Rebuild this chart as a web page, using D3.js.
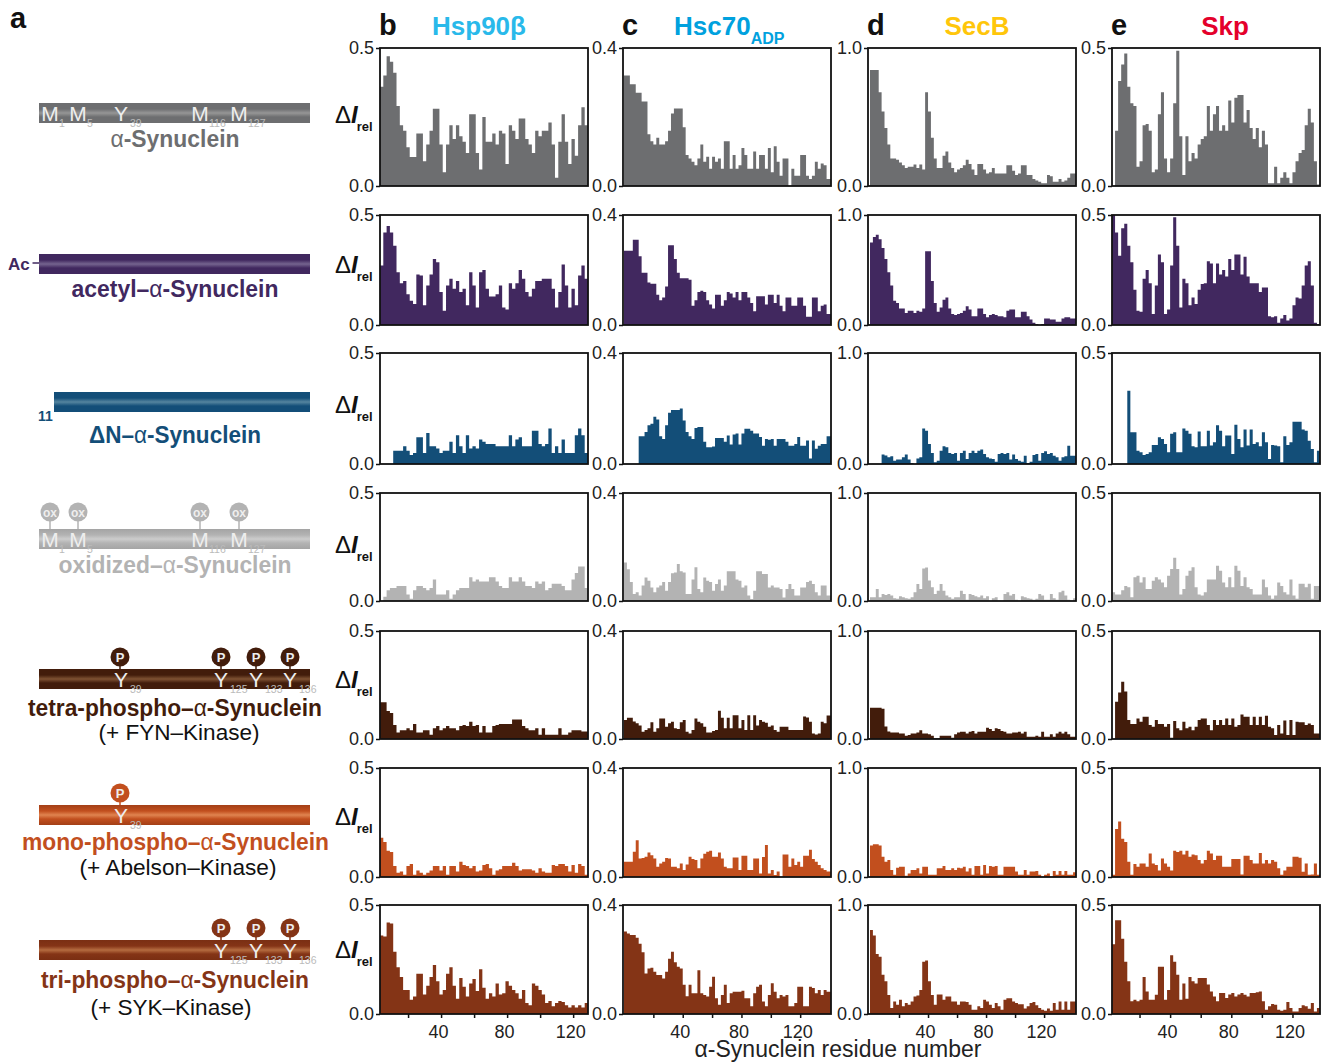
<!DOCTYPE html>
<html>
<head>
<meta charset="utf-8">
<script src="https://cdn.jsdelivr.net/npm/d3@7"></script>
<style>
body { margin: 0; background: #fff; }
svg { display: block; font-family: "Liberation Sans", Arial, sans-serif; }
.tick text { font-size: 18px; fill: #222; }
.tick line { stroke: #111; stroke-width: 1.5; }
</style>
</head>
<body>
<div id="chart"></div>
<script>
// delta I rel per residue pair, one array per construct
// Hsp90b column (starts at residue 3)
var hspWt = [.36,.40,.47,.45,.41,.29,.22,.20,.14,.105,.105,.19,.19,.09,.15,.2,.28,.28,.15,.05,.15,.22,.17,.22,.18,.16,.12,.26,.26,.12,.06,.25,.16,.16,.19,.15,.2,.19,.08,.22,.2,.17,.245,.245,.17,.15,.12,.2,.18,.2,.2,.23,.15,.03,.16,.26,.16,.08,.17,.11,.22,.285,.22];
var hspAcetyl = [.27,.42,.45,.42,.36,.24,.19,.2,.14,.11,.095,.23,.225,.09,.18,.23,.3,.285,.15,.065,.18,.21,.165,.2,.15,.165,.09,.24,.18,.08,.24,.25,.165,.13,.13,.14,.18,.08,.07,.19,.165,.19,.25,.21,.15,.13,.165,.2,.2,.21,.21,.21,.165,.08,.15,.275,.18,.08,.165,.09,.225,.27,.21];
var hspDeltaN = [0,0,0,0,.06,.06,.06,.08,.06,.04,.05,.12,.12,.05,.14,.08,.08,.07,.05,.06,.06,.1,.05,.13,.08,.05,.13,.07,.08,.07,.11,.1,.09,.09,.09,.08,.08,.08,.08,.13,.08,.11,.12,.08,.08,.08,.15,.15,.09,.08,.09,.16,.05,.08,.05,.11,.05,.05,.05,.13,.16,.13,.05];
var hspOx = [0,.02,.05,.06,.06,.07,.07,.07,.03,.01,.05,.07,.07,.06,.05,.06,.1,.03,.03,.03,.05,.01,.03,.05,.06,.06,.06,.11,.09,.1,.09,.09,.09,.11,.11,.09,.07,.06,.06,.11,.09,.09,.11,.09,.07,.07,.06,.09,.08,.09,.05,.06,.08,.08,.08,.07,.05,.05,.1,.13,.16,.16,.06];
var hspTetra = [.17,.17,.13,.12,.065,.03,.04,.04,.05,.04,.07,.03,.03,.04,.04,.02,.05,.06,.04,.05,.06,.05,.05,.04,.06,.065,.06,.08,.06,.065,.03,.06,.03,.03,.06,.065,.07,.07,.07,.07,.09,.09,.09,.06,.05,.04,.04,.05,.02,.05,.02,.02,.02,.02,.05,.02,.02,.03,.04,.04,.04,.035,.035];
var hspMono = [.18,.16,.12,.115,.05,.02,.025,.01,.05,.06,.01,.03,.02,.01,.02,.03,.05,.05,.03,.05,.01,.05,.05,.025,.07,.055,.05,.04,.05,.025,.03,.055,.06,.04,.01,.03,.035,.05,.05,.05,.065,.05,.03,.035,.035,.035,.03,.02,.04,.025,.02,.02,.055,.05,.06,.06,.05,.025,.055,.02,.06,.05,.01];
var hspTri = [.36,.355,.42,.415,.285,.215,.17,.11,.11,.065,.08,.185,.185,.09,.13,.17,.225,.15,.09,.11,.185,.215,.13,.07,.165,.125,.08,.14,.16,.105,.205,.12,.07,.095,.08,.14,.09,.095,.15,.13,.11,.095,.07,.11,.05,.04,.14,.13,.11,.09,.05,.06,.035,.05,.06,.055,.04,.03,.04,.03,.04,.03,.05];
// Hsc70 ADP column
var hscWt = [.32,.32,.295,.295,.27,.27,.245,.245,.15,.13,.12,.14,.12,.12,.13,.16,.21,.225,.225,.225,.17,.09,.08,.07,.06,.08,.12,.07,.085,.05,.085,.07,.08,.05,.13,.13,.05,.09,.05,.06,.11,.09,.05,.05,.10,.05,.09,.09,.05,.11,.04,.115,.07,.03,.08,.08,.0,.05,.03,.03,.09,.09,.03,.02,.03,.07,.05,.065,.06,.02];
var hscAcetyl = [.27,.27,.27,.31,.31,.25,.19,.19,.155,.15,.15,.11,.09,.1,.14,.29,.29,.24,.19,.17,.17,.17,.165,.07,.09,.12,.125,.12,.09,.075,.06,.11,.11,.07,.09,.12,.115,.1,.12,.09,.12,.12,.1,.08,.05,.105,.105,.105,.075,.11,.11,.08,.11,.07,.05,.1,.1,.07,.07,.1,.1,.07,.03,.03,.1,.1,.05,.07,.075,.04];
var hscDeltaN = [0,0,0,0,0,.1,.1,.115,.14,.145,.17,.16,.1,.09,.14,.185,.195,.195,.195,.2,.157,.115,.1,.09,.13,.133,.133,.08,.06,.06,.063,.094,.094,.094,.08,.103,.07,.106,.11,.07,.11,.127,.127,.12,.11,.11,.097,.066,.09,.087,.09,.066,.09,.09,.09,.08,.066,.066,.072,.097,.066,.066,.085,.02,.085,.055,.066,.072,.072,.1];
var hscOx = [.143,.118,.07,.026,.032,.02,.057,.087,.075,.05,.032,.05,.057,.07,.038,.07,.103,.106,.137,.11,.106,.026,.026,.08,.125,.044,.032,.087,.075,.07,.038,.063,.08,.038,.057,.11,.11,.11,.08,.075,.05,.057,.02,.007,.038,.11,.11,.1,.1,.05,.057,.05,.05,.044,.013,.044,.063,.044,.02,.02,.05,.05,.07,.075,.063,.032,.02,.057,.057,.02];
var hscTetra = [.07,.079,.079,.065,.058,.05,.027,.033,.04,.062,.027,.04,.076,.076,.045,.058,.064,.04,.037,.062,.07,.027,.02,.033,.076,.064,.058,.045,.024,.024,.03,.033,.105,.079,.04,.079,.04,.088,.088,.04,.07,.033,.088,.033,.088,.05,.07,.064,.06,.045,.05,.033,.027,.045,.045,.045,.033,.033,.033,.033,.033,.083,.08,.064,.02,.017,.02,.064,.058,.087];
var hscMono = [.056,.056,.056,.093,.135,.068,.07,.074,.09,.08,.068,.038,.05,.056,.07,.068,.038,.038,.032,.05,.026,.046,.074,.066,.062,.032,.068,.085,.093,.096,.074,.074,.09,.068,.038,.032,.032,.072,.072,.026,.078,.078,.026,.026,.068,.068,.013,.073,.117,.013,.026,.007,.02,.001,.083,.083,.038,.068,.044,.056,.038,.078,.078,.1,.066,.056,.044,.032,.026,.02];
var hscTri = [.303,.295,.29,.29,.28,.258,.227,.149,.167,.17,.155,.143,.143,.13,.155,.203,.228,.19,.173,.167,.107,.065,.107,.076,.076,.161,.076,.07,.064,.1,.137,.058,.034,.07,.107,.04,.076,.082,.082,.082,.085,.058,.058,.028,.076,.1,.107,.046,.028,.07,.113,.082,.058,.07,.064,.07,.028,.028,.04,.1,.1,.028,.028,.1,.095,.076,.088,.07,.088,.082];
// SecB column
var secWt = [.84,.84,.84,.68,.54,.42,.3,.2,.2,.19,.17,.15,.13,.14,.14,.155,.13,.155,.12,.68,.54,.35,.2,.13,.13,.22,.25,.17,.13,.1,.12,.13,.15,.19,.16,.12,.08,.16,.16,.12,.09,.1,.13,.09,.09,.09,.09,.15,.15,.11,.08,.09,.15,.15,.08,.08,.05,.04,.03,.02,.02,.08,.07,.03,.03,.05,.03,.04,.06,.09,.09];
var secAcetyl = [.75,.8,.82,.78,.7,.6,.48,.36,.22,.2,.15,.15,.11,.13,.13,.11,.13,.12,.15,.67,.67,.4,.2,.12,.16,.23,.25,.15,.1,.09,.1,.11,.13,.17,.14,.08,.08,.15,.15,.1,.07,.09,.1,.09,.08,.08,.07,.13,.14,.14,.07,.07,.12,.12,.08,.05,.02,.01,.0,.01,.06,.06,.05,.05,.03,.03,.06,.07,.07,.06,.06];
var secDeltaN = [0,0,0,0,.085,.076,.06,.07,.03,.04,.04,.06,.085,.04,.01,0,.05,.06,.32,.3,.18,.1,.015,.03,.12,.16,.15,.1,.09,.1,.03,.1,.12,.045,.1,.12,.1,.12,.13,.09,.06,.05,.045,.02,.09,.1,.09,.1,.04,.085,.045,.03,.02,.075,.01,.02,.08,.09,.03,.1,.115,.09,.1,.075,.06,.03,.06,.07,.165,.075,.075];
var secOx = [.034,.034,.11,.034,.065,.055,.065,.05,.025,.02,.043,.034,.025,.02,.034,.08,.157,.11,.3,.31,.19,.127,.065,.096,.157,.096,.05,.034,.02,.034,.034,.096,.065,.012,.065,.055,.043,.034,.05,.025,.043,.003,.025,.034,.003,.003,.065,.08,.05,.065,.012,.003,.043,.034,.025,.02,.012,.02,.065,.05,.012,.012,.065,.025,.012,.08,.096,.05,.012,.003,.025];
var secTetra = [.29,.29,.29,.29,.28,.115,.07,.06,.06,.06,.05,.05,.03,.037,.05,.05,.06,.08,.05,.05,.043,.03,.006,.006,.03,.03,.03,.03,.012,.043,.06,.068,.068,.05,.068,.074,.05,.068,.068,.068,.105,.092,.074,.1,.092,.074,.068,.05,.05,.06,.06,.068,.05,.068,.02,.02,.02,.03,.02,.068,.02,.02,.043,.02,.05,.068,.05,.068,.043,.02,.02];
var secMono = [.29,.3,.3,.29,.185,.14,.155,.065,.02,.085,.095,.095,.012,.033,.065,.065,.08,.033,.095,.095,.02,.02,.02,.08,.08,.1,.065,.065,.08,.065,.085,.08,.095,.05,.08,.02,.1,.1,.02,.11,.033,.1,.095,.1,.02,.02,.095,.095,.095,.095,.05,.02,.02,.065,.02,.05,.05,.055,.02,.003,.02,.033,.003,.055,.02,.055,.02,.055,.02,.02,.043];
var secTri = [.77,.72,.55,.525,.36,.3,.175,.055,.115,.085,.13,.07,.1,.085,.115,.16,.17,.22,.48,.49,.3,.175,.085,.18,.18,.13,.16,.16,.115,.115,.085,.115,.115,.11,.085,.04,.04,.07,.055,.13,.115,.085,.055,.1,.07,.04,.13,.145,.145,.115,.1,.09,.09,.05,.07,.1,.11,.08,.055,.04,.03,.05,.03,.1,.04,.115,.04,.115,.04,.115,.115];
// Skp column (starts at residue 2)
var skpWt = [0,.2,.38,.44,.48,.36,.3,.29,.07,.09,.22,.225,.2,.05,.06,.26,.34,.1,.05,.1,.3,.49,.18,.04,.18,.09,.12,.1,.15,.17,.18,.29,.2,.26,.29,.2,.22,.2,.31,.23,.32,.33,.33,.23,.275,.21,.17,.21,.14,.2,.15,.01,.01,.07,.01,.03,.05,.03,.01,.05,.09,.12,.13,.22,.28,.23,.09,.005];
var skpAcetyl = [.5,.42,.315,.44,.46,.36,.285,.16,.065,.06,.21,.25,.19,.05,.18,.32,.285,.05,.07,.27,.49,.36,.08,.21,.19,.09,.125,.095,.16,.186,.19,.29,.28,.19,.28,.23,.25,.22,.3,.25,.32,.32,.23,.31,.22,.19,.19,.19,.15,.17,.17,.04,.035,.04,.01,.03,.045,.02,.03,.09,.125,.12,.18,.27,.29,.18,.01,.005];
var skpDeltaN = [0,0,0,0,0,.33,.143,.143,.06,.053,.04,.045,.053,.086,.086,.12,.113,.09,.053,.136,.143,.053,.053,.16,.15,.136,.08,.075,.146,.08,.08,.15,.083,.098,.174,.15,.08,.128,.128,.045,.177,.113,.075,.155,.083,.155,.09,.098,.08,.143,.098,.023,.086,.083,.08,.008,.125,.086,.098,.19,.19,.19,.155,.15,.105,.068,.008,.06];
var skpOx = [.04,.03,.03,.05,.07,.064,.017,.11,.117,.086,.11,.055,.055,.094,.11,.1,.086,.064,.117,.148,.2,.148,.03,.055,.117,.14,.156,.064,.03,.025,.04,.1,.1,.1,.163,.14,.086,.064,.11,.064,.163,.14,.07,.11,.064,.055,.03,.03,.03,.1,.064,.025,.01,.025,.086,.07,.04,.03,.1,.025,.01,.08,.08,.064,.08,.01,.07,.07];
var skpTetra = [0,.172,.215,.265,.22,.088,.07,.07,.095,.08,.103,.103,.065,.057,.088,.07,.07,.057,.07,.006,.083,.05,.04,.08,.05,.057,.04,.057,.088,.095,.095,.065,.04,.088,.065,.088,.065,.095,.065,.095,.057,.065,.114,.103,.103,.065,.103,.065,.103,.065,.108,.057,.05,.018,.065,.026,.086,.018,.088,.018,.08,.077,.077,.065,.072,.065,.026,.026];
var skpMono = [.01,.22,.255,.176,.16,.07,.01,.06,.047,.062,.062,.047,.108,.062,.055,.03,.085,.062,.047,.03,.12,.115,.12,.103,.12,.093,.103,.1,.078,.062,.078,.12,.108,.078,.098,.098,.047,.047,.047,.082,.082,.082,.012,.098,.098,.078,.062,.062,.11,.062,.078,.062,.078,.07,.04,.01,.03,.047,.047,.093,.093,.088,.024,.062,.01,.012,.062,.01];
var skpTri = [.32,.43,.43,.345,.24,.15,.058,.065,.058,.065,.17,.103,.065,.065,.088,.217,.217,.065,.11,.27,.24,.18,.065,.14,.07,.17,.15,.14,.165,.165,.165,.135,.103,.08,.058,.096,.096,.073,.09,.096,.08,.09,.096,.088,.08,.096,.096,.1,.103,.058,.02,.035,.046,.043,.02,.015,.02,.055,.027,.012,.012,.027,.04,.035,.024,.05,.012,.027];

var xTicks = [20, 40, 60, 80, 100, 120];
var xLabels = [40, 80, 120];

var columns = [
  {letter:"b", yMax:0.5, domain:[3,129], range:[380,588], letterX:379,
   series:[hspWt,hspAcetyl,hspDeltaN,hspOx,hspTetra,hspMono,hspTri]},
  {letter:"c", yMax:0.4, domain:[0,141], range:[624,831], letterX:622,
   series:[hscWt,hscAcetyl,hscDeltaN,hscOx,hscTetra,hscMono,hscTri]},
  {letter:"d", yMax:1.0, domain:[0,142], range:[870,1076], letterX:867,
   series:[secWt,secAcetyl,secDeltaN,secOx,secTetra,secMono,secTri]},
  {letter:"e", yMax:0.5, domain:[2,138], range:[1112,1320], letterX:1111,
   series:[skpWt,skpAcetyl,skpDeltaN,skpOx,skpTetra,skpMono,skpTri]}
];
var boxLeft = [380, 623, 868, 1112];
var boxRight = [588, 831, 1076, 1320];
var rowTop = [48, 215, 353, 493, 631, 768, 905];
var rowBottom = [186, 325, 464, 601, 739, 877, 1014];
var rowLabelY = [123, 273, 413, 553, 688, 825, 958];

var colors = ["#6d6e70", "#41285f", "#134e78", "#b3b3b3", "#421c0b", "#c24f1e", "#843416"];
var barLight = ["#969696", "#75648f", "#55859f", "#cccccc", "#7f5233", "#e08450", "#b56c40"];
var barDark = ["#6d6e70", "#41285f", "#134e78", "#a4a4a4", "#421c0b", "#a33f17", "#7a2f13"];

var svg = d3.select("#chart").append("svg").attr("width", 1331).attr("height", 1063);

// gradients for the protein bars
var defs = svg.append("defs");
colors.forEach(function(c, i) {
  var g = defs.append("linearGradient").attr("id", "bar" + i)
    .attr("x1", 0).attr("x2", 0).attr("y1", 0).attr("y2", 1);
  var stops = [[0,barDark[i]],[.3,c],[.5,barLight[i]],[.7,c],[1,barDark[i]]];
  stops.forEach(function(s) {
    g.append("stop").attr("offset", s[0]).attr("stop-color", s[1]);
  });
});

// panels
columns.forEach(function(col, ci) {
  var x = d3.scaleLinear().domain(col.domain).range(col.range);
  col.series.forEach(function(values, ri) {
    var y = d3.scaleLinear().domain([0, col.yMax]).range([rowBottom[ri], rowTop[ri]]);
    var points = values.map(function(v, i) { return {res: col.domain[0] + 2 * i, val: v}; });
    points.push({res: col.domain[1], val: values[values.length - 1]});
    points = points.filter(function(p) { return p.res <= col.domain[1]; });
    var area = d3.area().curve(d3.curveStepAfter)
      .x(function(d) { return x(d.res); })
      .y0(y(0))
      .y1(function(d) { return y(d.val); });
    svg.append("path").datum(points)
      .attr("d", area)
      .attr("fill", colors[ri]);
    svg.append("rect")
      .attr("x", boxLeft[ci]).attr("y", rowTop[ri])
      .attr("width", boxRight[ci] - boxLeft[ci])
      .attr("height", rowBottom[ri] - rowTop[ri])
      .attr("fill", "none").attr("stroke", "#111").attr("stroke-width", 1.8);
    var yAxis = d3.axisLeft(y).tickValues([0, col.yMax]).tickSize(4).tickPadding(2)
      .tickFormat(d3.format(".1f"));
    svg.append("g").attr("transform", "translate(" + boxLeft[ci] + ",0)")
      .call(yAxis)
      .call(function(g) { g.select(".domain").remove(); });
    if (ri == 6) {
      var xAxis = d3.axisBottom(x).tickValues(xTicks).tickSize(4).tickPadding(7)
        .tickFormat(function(d) { return xLabels.indexOf(d) >= 0 ? d : ""; });
      svg.append("g").attr("transform", "translate(0," + rowBottom[ri] + ")")
        .call(xAxis)
        .call(function(g) { g.select(".domain").remove(); })
        .call(function(g) { g.selectAll("text").attr("dx", -3); });
    }
  });
});

// delta I rel labels
rowLabelY.forEach(function(yy) {
  var t = svg.append("text").attr("x", 335).attr("y", yy).attr("font-size", 24).attr("fill", "#111");
  t.append("tspan").text("\u0394");
  t.append("tspan").text("I").attr("font-weight", "bold").attr("font-style", "italic");
  t.append("tspan").text("rel").attr("font-size", 13).attr("font-weight", "bold").attr("dy", 8).attr("dx", -1);
});

// panel letters
var letters = [{t:"a", x:10, y:28}];
columns.forEach(function(c) { letters.push({t:c.letter, x:c.letterX, y:35}); });
svg.selectAll(".letter").data(letters).enter().append("text")
  .attr("class", "letter")
  .attr("x", function(d) { return d.x; })
  .attr("y", function(d) { return d.y; })
  .attr("font-size", 29).attr("font-weight", "bold").attr("fill", "#111")
  .text(function(d) { return d.t; });

// column titles
function title(txt, xx, color, sub) {
  var t = svg.append("text").attr("x", xx).attr("y", 35).attr("font-size", 26)
    .attr("font-weight", "bold").attr("fill", color).text(txt);
  if (sub) t.append("tspan").attr("font-size", 16).attr("dy", 9).text(sub);
  return t;
}
title("Hsp90\u03B2", 479, "#29b9ea").attr("text-anchor", "middle");
title("Hsc70", 674, "#00a1de", "ADP");
title("SecB", 977, "#ffc60b").attr("text-anchor", "middle");
title("Skp", 1225, "#e4002b").attr("text-anchor", "middle");

// protein schematics
var schematics = [
  {top:103, left:39, marks:[["M",50,"1"],["M",78,"5"],["Y",121,"39"],["M",200,"116"],["M",239,"127"]], pins:[]},
  {top:254, left:39, marks:[], pins:[]},
  {top:392, left:54, marks:[], pins:[]},
  {top:529, left:39, marks:[["M",50,"1"],["M",78,"5"],["M",200,"116"],["M",239,"127"]], pins:[50,78,200,239], pin:"ox"},
  {top:669, left:39, marks:[["Y",121,"39"],["Y",221,"125"],["Y",256,"133"],["Y",290,"136"]], pins:[120,221,256,290], pin:"P"},
  {top:805, left:39, marks:[["Y",121,"39"]], pins:[120], pin:"P"},
  {top:940, left:39, marks:[["Y",221,"125"],["Y",256,"133"],["Y",290,"136"]], pins:[221,256,290], pin:"P"}
];
var barH = 20;

schematics.forEach(function(s, i) {
  var g = svg.append("g");
  s.pins.forEach(function(px) {
    var cy = s.top - (s.pin == "ox" ? 17 : 12);
    g.append("line").attr("x1", px).attr("x2", px).attr("y1", cy).attr("y2", s.top + 2)
      .attr("stroke", colors[i]).attr("stroke-width", 1.5);
    g.append("circle").attr("cx", px).attr("cy", cy).attr("r", 9.5).attr("fill", colors[i]);
    g.append("text").attr("x", px).attr("y", cy + 4.5).attr("text-anchor", "middle")
      .attr("font-size", s.pin == "ox" ? 12 : 13).attr("font-weight", "bold").attr("fill", "#eee")
      .text(s.pin);
  });
  g.append("rect").attr("x", s.left).attr("y", s.top)
    .attr("width", 310 - s.left).attr("height", barH)
    .attr("fill", "url(#bar" + i + ")");
  s.marks.forEach(function(m) {
    g.append("text").attr("x", m[1]).attr("y", s.top + 18).attr("text-anchor", "middle")
      .attr("font-size", 21).attr("fill", "#eee").text(m[0]);
    g.append("text").attr("x", m[1] + 9).attr("y", s.top + 24)
      .attr("font-size", 10.5).attr("fill", "#bbb").text(m[2]);
  });
});

svg.append("text").attr("x", 8).attr("y", 270).attr("font-size", 17).attr("font-weight", "bold")
  .attr("fill", colors[1]).text("Ac");
svg.append("line").attr("x1", 32.5).attr("x2", 39).attr("y1", 263).attr("y2", 263)
  .attr("stroke", colors[1]).attr("stroke-width", 1.5);
svg.append("text").attr("x", 38).attr("y", 421).attr("font-size", 14).attr("font-weight", "bold")
  .attr("fill", colors[2]).text("11");

// construct names
var names = [
  {pre:"", post:"-Synuclein", y:147, w:129, c:175},
  {pre:"acetyl\u2013", post:"-Synuclein", y:297, w:207, c:175},
  {pre:"\u0394N\u2013", post:"-Synuclein", y:443, w:172, c:175},
  {pre:"oxidized\u2013", post:"-Synuclein", y:573, w:233, c:175},
  {pre:"tetra-phospho\u2013", post:"-Synuclein", y:716, w:294, c:175},
  {pre:"mono-phospho\u2013", post:"-Synuclein", y:850, w:307, c:175.5},
  {pre:"tri-phospho\u2013", post:"-Synuclein", y:988, w:268, c:175}
];
names.forEach(function(n, i) {
  var t = svg.append("text").attr("x", n.c).attr("y", n.y).attr("text-anchor", "middle")
    .attr("font-size", 23).attr("font-weight", "bold").attr("fill", colors[i])
    .attr("textLength", n.w).attr("lengthAdjust", "spacingAndGlyphs");
  t.append("tspan").text(n.pre);
  t.append("tspan").attr("font-weight", "normal").text("\u03B1");
  t.append("tspan").text(n.post);
});

var kinases = [
  {t:"(+ FYN\u2013Kinase)", c:179, y:740, w:161},
  {t:"(+ Abelson\u2013Kinase)", c:178, y:875, w:197},
  {t:"(+ SYK\u2013Kinase)", c:171, y:1015, w:161}
];
svg.selectAll(".kinase").data(kinases).enter().append("text")
  .attr("class", "kinase")
  .attr("x", function(d) { return d.c; })
  .attr("y", function(d) { return d.y; })
  .attr("text-anchor", "middle").attr("font-size", 22).attr("fill", "#111")
  .attr("textLength", function(d) { return d.w; })
  .attr("lengthAdjust", "spacingAndGlyphs")
  .text(function(d) { return d.t; });

svg.append("text").attr("x", 838).attr("y", 1057).attr("text-anchor", "middle")
  .attr("font-size", 23).attr("fill", "#222")
  .text("\u03B1-Synuclein residue number");
</script>
</body>
</html>
